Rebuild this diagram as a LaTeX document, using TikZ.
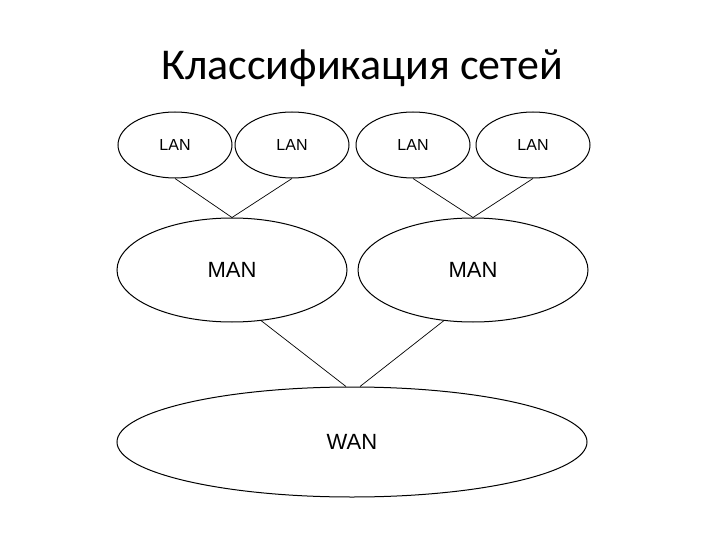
\documentclass[tikz,border=0pt]{standalone}
\usepackage{fontspec}
\setmainfont{Liberation Sans}
\newfontfamily\titlefont{Carlito}
\usetikzlibrary{shapes.geometric}
\tikzset{
 net/.style={ellipse,draw,line width=1pt,inner sep=0pt},
 lan/.style={net,minimum width=114pt,minimum height=66pt,font=\fontsize{16}{18}\selectfont},
 man/.style={net,minimum width=230pt,minimum height=104pt,font=\fontsize{22}{26}\selectfont},
 wan/.style={net,minimum width=470pt,minimum height=110pt,font=\fontsize{22}{26}\selectfont},
 link/.style={line width=0.7pt}
}
\begin{document}
\begin{tikzpicture}[x=1pt,y=-1pt]
\useasboundingbox (0,0) rectangle (720,540);
\node (title) at (362,68) {\titlefont\fontsize{44}{50}\selectfont Классификация сетей};
\node[lan] (l1) at (175,145) {LAN};
\node[lan] (l2) at (292,145) {LAN};
\node[lan] (l3) at (413,145) {LAN};
\node[lan] (l4) at (533,145) {LAN};
\node[man] (m1) at (232,270) {MAN};
\node[man] (m2) at (473,270) {MAN};
\node[wan] (w) at (352,442) {WAN};
\draw[link] (l1.south) -- (m1.north);
\draw[link] (l2.south) -- (m1.north);
\draw[link] (l3.south) -- (m2.north);
\draw[link] (l4.south) -- (m2.north);
\draw[link] (m1.-60) -- ([xshift=-6pt]w.north);
\draw[link] (m2.-120) -- ([xshift=8pt]w.north);
\end{tikzpicture}
\end{document}
